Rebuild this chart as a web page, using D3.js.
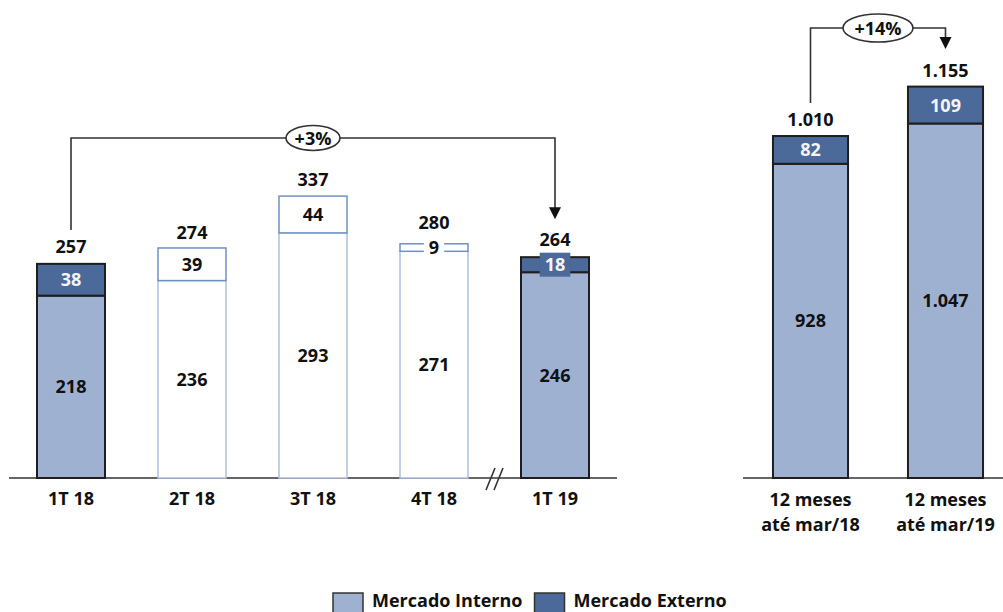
<!DOCTYPE html>
<html>
<head>
<meta charset="utf-8">
<script src="https://cdn.jsdelivr.net/npm/d3@7"></script>
<style>
  body { margin: 0; background: #fff; }
  text { font-family: "Open Sans", Lato, sans-serif; font-weight: 700; }
</style>
</head>
<body>
<svg id="chart" width="1003" height="612"></svg>
<script>
// Quarterly volumes
const quarters = ["1T 18", "2T 18", "3T 18", "4T 18", "1T 19"];
const quarterInterno = [218, 236, 293, 271, 246];
const quarterExterno = [38, 39, 44, 9, 18];
const quarterTotal = [257, 274, 337, 280, 264];
const quarterHollow = [false, true, true, true, false];

// Twelve-month volumes
const periods = ["mar/18", "mar/19"];
const periodLines = [["12 meses", "até mar/18"], ["12 meses", "até mar/19"]];
const periodInterno = [928, 1047];
const periodExterno = [82, 109];
const periodTotal = [1010, 1155];

const growthLabels = ["+3%", "+14%"];
const legendLabels = ["Mercado Interno", "Mercado Externo"];

const COLOR_INT = "#9eb1d1";
const COLOR_EXT = "#4b6999";
const OUT_DARK = "#1e1e1e";
const OUT_EXT_HOLLOW = "#7290c2";
const OUT_INT_HOLLOW = "#aebfdd";
const FS = 18;

const ptBR = d3.formatLocale({ decimal: ",", thousands: ".", grouping: [3], currency: ["R$", ""] });
const fmt = ptBR.format(",d");

const svg = d3.select("#chart");
const BASE = 478;

// Scales
const xL = d3.scaleBand().domain(quarters).range([10.5, 615.5]).paddingInner(0.438).paddingOuter(0.219);
const yL = d3.scaleLinear().domain([0, 400]).range([BASE, BASE - 334.6]);
const xR = d3.scaleBand().domain(periods).range([743, 1013]).paddingInner(0.444).paddingOuter(0.222);
const yR = d3.scaleLinear().domain([0, 1200]).range([BASE, BASE - 406.3]);

function rows(cats, interno, externo, total, hollow) {
  return cats.map((c, i) => ({ cat: c, interno: interno[i], externo: externo[i], total: total[i], hollow: hollow ? hollow[i] : false }));
}

function drawBars(g, data, x, y) {
  const bw = x.bandwidth();
  const bars = g.selectAll("g.bar").data(data).join("g").attr("class", "bar");

  // interno segment
  bars.append("rect")
    .attr("x", d => x(d.cat))
    .attr("y", d => y(d.interno))
    .attr("width", bw)
    .attr("height", d => y(0) - y(d.interno))
    .attr("fill", d => d.hollow ? "#fff" : COLOR_INT)
    .attr("stroke", d => d.hollow ? OUT_INT_HOLLOW : OUT_DARK)
    .attr("stroke-width", d => d.hollow ? 1.5 : 2);

  // externo segment
  bars.append("rect")
    .attr("x", d => x(d.cat))
    .attr("y", d => y(d.interno + d.externo))
    .attr("width", bw)
    .attr("height", d => y(d.interno) - y(d.interno + d.externo))
    .attr("fill", d => d.hollow ? "#fff" : COLOR_EXT)
    .attr("stroke", d => d.hollow ? OUT_EXT_HOLLOW : OUT_DARK)
    .attr("stroke-width", d => d.hollow ? 1.5 : 2);

  // segment labels with backing boxes
  const segs = [];
  data.forEach(d => {
    const cx = x(d.cat) + bw / 2;
    d.extMid = (y(d.interno) + y(d.interno + d.externo)) / 2;
    segs.push({ cx, cy: (y(0) + y(d.interno)) / 2, v: d.interno, fill: d.hollow ? "#fff" : COLOR_INT, color: "#111" });
    segs.push({ cx, cy: d.extMid, v: d.externo, fill: d.hollow ? "#fff" : COLOR_EXT, color: d.hollow ? "#111" : "#f4f4f4" });
  });
  const lab = g.selectAll("g.seglab").data(segs).join("g").attr("class", "seglab");
  const boxes = lab.append("rect").attr("fill", d => d.fill);
  const texts = lab.append("text")
    .attr("x", d => d.cx)
    .attr("y", d => d.cy + 6.5)
    .attr("text-anchor", "middle")
    .attr("font-size", FS)
    .attr("fill", d => d.color)
    .text(d => fmt(d.v));
  texts.each(function (d) { d.w = this.getComputedTextLength(); });
  boxes.attr("x", d => d.cx - d.w / 2 - 5)
    .attr("y", d => d.cy - 12)
    .attr("width", d => d.w + 10)
    .attr("height", 24);

  // totals, lifted clear of the externo label box when that box pokes above the bar
  g.selectAll("text.total").data(data).join("text")
    .attr("class", "total")
    .attr("x", d => x(d.cat) + bw / 2)
    .attr("y", d => Math.min(y(d.total) - 10, d.extMid - 12 - 7))
    .attr("text-anchor", "middle")
    .attr("font-size", FS)
    .attr("fill", "#111")
    .text(d => fmt(d.total));
}

function drawGrowth(g, x, y, fromCat, toCat, fromTotal, toTotal, levelY, label, rx, ry) {
  const x0 = x(fromCat) + x.bandwidth() / 2;
  const x1 = x(toCat) + x.bandwidth() / 2;
  const yStart = y(fromTotal) - 33;
  const yTip = y(toTotal) - 38;
  g.append("path")
    .attr("d", `M${x0},${yStart}V${levelY}H${x1}V${yTip - 11}`)
    .attr("fill", "none")
    .attr("stroke", "#333")
    .attr("stroke-width", 1.6);
  g.append("path")
    .attr("d", `M${x1 - 6},${yTip - 12}L${x1 + 6},${yTip - 12}L${x1},${yTip}Z`)
    .attr("fill", "#111");
  const mx = (x0 + x1) / 2;
  g.append("ellipse")
    .attr("cx", mx).attr("cy", levelY)
    .attr("rx", rx).attr("ry", ry)
    .attr("fill", "#fff").attr("stroke", "#333").attr("stroke-width", 1.6);
  g.append("text")
    .attr("x", mx).attr("y", levelY + 6.5)
    .attr("text-anchor", "middle")
    .attr("font-size", FS)
    .attr("fill", "#111")
    .text(label);
}

// Left panel: quarters
const gL = svg.append("g");
gL.append("line").attr("x1", 9).attr("x2", 617).attr("y1", BASE).attr("y2", BASE)
  .attr("stroke", "#333").attr("stroke-width", 1.6);
drawBars(gL, rows(quarters, quarterInterno, quarterExterno, quarterTotal, quarterHollow), xL, yL);
gL.selectAll("text.cat").data(quarters).join("text")
  .attr("class", "cat")
  .attr("x", d => xL(d) + xL.bandwidth() / 2)
  .attr("y", 505)
  .attr("text-anchor", "middle")
  .attr("font-size", FS)
  .attr("fill", "#111")
  .text(d => d);

// axis break between 4T 18 and 1T 19
const brk = (xL(quarters[3]) + xL.bandwidth() + xL(quarters[4])) / 2;
[-4, 4].forEach(off => {
  gL.append("line")
    .attr("x1", brk + off - 4.5).attr("y1", BASE + 12)
    .attr("x2", brk + off + 4.5).attr("y2", BASE - 10)
    .attr("stroke", "#333").attr("stroke-width", 1.6);
});
drawGrowth(gL, xL, yL, quarters[0], quarters[4], quarterTotal[0], quarterTotal[4], 138, growthLabels[0], 27, 12.5);

// Right panel: twelve months
const gR = svg.append("g");
gR.append("line").attr("x1", 743).attr("x2", 1003).attr("y1", BASE).attr("y2", BASE)
  .attr("stroke", "#333").attr("stroke-width", 1.6);
drawBars(gR, rows(periods, periodInterno, periodExterno, periodTotal, null), xR, yR);
periods.forEach((p, i) => {
  const t = gR.append("text")
    .attr("x", xR(p) + xR.bandwidth() / 2)
    .attr("y", 506)
    .attr("text-anchor", "middle")
    .attr("font-size", FS)
    .attr("fill", "#111");
  periodLines[i].forEach((line, j) => {
    t.append("tspan").attr("x", xR(p) + xR.bandwidth() / 2).attr("dy", j === 0 ? 0 : 25).text(line);
  });
});
drawGrowth(gR, xR, yR, periods[0], periods[1], periodTotal[0], periodTotal[1], 28, growthLabels[1], 35, 14);

// Legend
const gLeg = svg.append("g");
let lx = 333;
legendLabels.forEach((name, i) => {
  gLeg.append("rect")
    .attr("x", lx).attr("y", 593).attr("width", 30).attr("height", 24)
    .attr("fill", i === 0 ? COLOR_INT : COLOR_EXT)
    .attr("stroke", "#333").attr("stroke-width", 1.5);
  const t = gLeg.append("text")
    .attr("x", lx + 39).attr("y", 607)
    .attr("font-size", FS)
    .attr("fill", "#111")
    .text(name);
  lx += 39 + t.node().getComputedTextLength() + 12;
});
</script>
</body>
</html>
